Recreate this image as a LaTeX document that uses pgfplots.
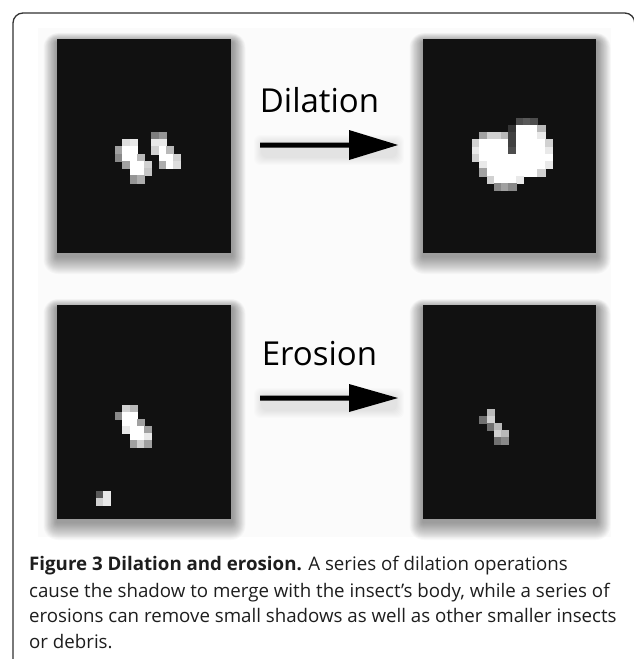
\documentclass[border=0pt]{standalone}
\usepackage{pgfplots}
\pgfplotsset{compat=1.18}
\usepackage{fontspec}
\setmainfont{Open Sans}
\definecolor{panel}{RGB}{17,17,17}
\definecolor{framec}{RGB}{50,50,50}
\definecolor{captext}{RGB}{30,30,30}
\begin{document}
\begin{tikzpicture}
\begin{axis}[
  width=634bp, height=659bp, scale only axis,
  xmin=0, xmax=634, ymin=0, ymax=659, y dir=reverse,
  axis lines=none, ticks=none,
  axis background/.style={fill=white},
  colormap={bw}{rgb255=(17,17,17) rgb255=(255,255,255)},
  point meta min=0, point meta max=1,
]
% light photo background
\addplot[fill=black!1.5, draw=none] coordinates {(38,28) (611,28) (611,537) (38,537)} -- cycle;
% soft shadows of the four panels
\pgfplotsinvokeforeach{1,...,18}{
  \fill[black, opacity=0.022, rounded corners={0.8*#1 bp}] (axis cs:{57-0.75*#1},{39-0.5*#1+3}) rectangle (axis cs:{231+0.75*#1+1},{253+1.0*#1+3});
  \fill[black, opacity=0.022, rounded corners={0.8*#1 bp}] (axis cs:{423-0.75*#1},{39-0.5*#1+3}) rectangle (axis cs:{596+0.75*#1+1},{253+1.0*#1+3});
  \fill[black, opacity=0.022, rounded corners={0.8*#1 bp}] (axis cs:{57-0.75*#1},{305-0.5*#1+3}) rectangle (axis cs:{231+0.75*#1+1},{519+1.0*#1+3});
  \fill[black, opacity=0.022, rounded corners={0.8*#1 bp}] (axis cs:{423-0.75*#1},{305-0.5*#1+3}) rectangle (axis cs:{596+0.75*#1+1},{519+1.0*#1+3});
}
% arrow shadows
\pgfplotsinvokeforeach{1,...,8}{
  \fill[black, opacity=0.012, rounded corners=6bp] (axis cs:{262-#1},{138-#1+5}) rectangle (axis cs:{396+#1},{152+#1+5});
  \fill[black, opacity=0.012, rounded corners=6bp] (axis cs:{262-#1},{391-#1+5}) rectangle (axis cs:{396+#1},{405+#1+5});
}
% black panels
\addplot[fill=panel, draw=none] coordinates {(57,39) (231,39) (231,253) (57,253)} -- cycle;
\addplot[fill=panel, draw=none] coordinates {(423,39) (596,39) (596,253) (423,253)} -- cycle;
\addplot[fill=panel, draw=none] coordinates {(57,305) (231,305) (231,519) (57,519)} -- cycle;
\addplot[fill=panel, draw=none] coordinates {(423,305) (596,305) (596,519) (423,519)} -- cycle;
% arrows
\addplot[fill=black, draw=none] coordinates {(260,142.5) (349,142.5) (349,130) (398,145) (349,160) (349,147.5) (260,147.5)} -- cycle;
\addplot[fill=black, draw=none] coordinates {(260,395.5) (349,395.5) (349,384) (398,398) (349,412) (349,400.5) (260,400.5)} -- cycle;
% pixel blobs
\addplot[scatter, only marks, mark=square*, mark size=3.62pt,
  scatter/use mapped color={draw=mapped color, fill=mapped color},
  point meta=explicit] table[meta=v] {
x y v
126.25 143 0.85
133.5 143 0.9
119 150.25 0.6
126.25 150.25 1
133.5 150.25 1
119 157.5 0.5
126.25 157.5 1
133.5 157.5 1
140.75 157.5 0.7
126.25 164.75 0.6
133.5 164.75 1
140.75 164.75 1
148 164.75 0.8
133.5 172 1
140.75 172 1
148 172 0.75
133.5 179.25 0.55
140.75 179.25 0.65
155.25 135.75 0.45
162.5 135.75 0.55
155.25 143 0.9
162.5 143 0.9
155.25 150.25 0.8
162.5 150.25 1
169.75 150.25 0.7
162.5 157.5 1
169.75 157.5 1
177 157.5 0.8
162.5 164.75 0.65
169.75 164.75 1
177 164.75 0.85
483.25 136 0.6
490.5 136 0.8
497.75 136 0.8
505 136 0.7
476 143.25 0.8
483.25 143.25 1
490.5 143.25 1
497.75 143.25 1
505 143.25 1
512.25 143.25 0.2
476 150.5 0.9
483.25 150.5 1
490.5 150.5 1
497.75 150.5 1
505 150.5 1
512.25 150.5 0.25
476 157.75 0.8
483.25 157.75 1
490.5 157.75 1
497.75 157.75 1
505 157.75 1
512.25 157.75 1
483.25 165 0.9
490.5 165 1
497.75 165 1
505 165 1
512.25 165 1
483.25 172.25 0.6
490.5 172.25 1
497.75 172.25 1
505 172.25 1
512.25 172.25 1
519.5 172.25 1
526.75 172.25 1
534 172.25 1
541.25 172.25 0.8
490.5 179.5 0.8
497.75 179.5 1
505 179.5 1
512.25 179.5 1
519.5 179.5 0.9
497.75 186.75 0.5
505 186.75 0.6
512.25 186.75 0.5
512.25 128.75 0.15
512.25 136 0.2
519.5 121.5 0.25
526.75 121.5 0.3
534 121.5 0.25
519.5 128.75 1
526.75 128.75 1
534 128.75 1
541.25 128.75 0.7
519.5 136 1
526.75 136 1
534 136 1
541.25 136 0.9
519.5 143.25 1
526.75 143.25 1
534 143.25 1
541.25 143.25 1
548.5 143.25 0.8
519.5 150.5 1
526.75 150.5 1
534 150.5 1
541.25 150.5 1
548.5 150.5 0.9
519.5 157.75 1
526.75 157.75 1
534 157.75 1
541.25 157.75 1
548.5 157.75 1
519.5 165 1
526.75 165 1
534 165 1
541.25 165 1
548.5 165 0.9
126.25 409 0.8
133.5 409 0.7
119 416 0.5
126.25 416 1
133.5 416 1
126.25 423 1
133.5 423 1
140.75 423 0.6
126.25 430 0.9
133.5 430 1
140.75 430 1
148 430 0.6
133.5 437 1
140.75 437 1
148 437 0.9
133.5 444 0.6
140.75 444 0.8
148 444 0.6
100 495 0.3
107 495 0.9
100 502 0.8
107 502 0.9
490.5 413 0.7
483.25 420 0.4
490.5 420 0.8
490.5 427 0.4
497.75 427 0.7
497.75 434 0.8
505 434 0.7
497.75 441 0.4
505 441 0.5
};
% labels
\node[anchor=base, font=\fontsize{33bp}{36bp}\selectfont, inner sep=0pt] at (axis cs:319.5,112) {Dilation};
\node[anchor=base, font=\fontsize{33bp}{36bp}\selectfont, inner sep=0pt] at (axis cs:319.5,365) {Erosion};
% caption
\node[anchor=base west, inner sep=0pt, text=captext, font=\fontsize{18.7bp}{22bp}\selectfont] at (axis cs:29,570) {\textbf{Figure 3 Dilation and erosion.} A series of dilation operations};
\node[anchor=base west, inner sep=0pt, text=captext, font=\fontsize{18.7bp}{22bp}\selectfont] at (axis cs:29,597) {cause the shadow to merge with the insect’s body, while a series of};
\node[anchor=base west, inner sep=0pt, text=captext, font=\fontsize{18.7bp}{22bp}\selectfont] at (axis cs:29,622) {erosions can remove small shadows as well as other smaller insects};
\node[anchor=base west, inner sep=0pt, text=captext, font=\fontsize{18.7bp}{22bp}\selectfont] at (axis cs:29,648) {or debris.};
% frame
\draw[framec, line width=1.3bp, rounded corners=10bp] (axis cs:13,700) -- (axis cs:13,13) -- (axis cs:634.8,13) -- (axis cs:634.8,700);
\end{axis}
\end{tikzpicture}
\end{document}
